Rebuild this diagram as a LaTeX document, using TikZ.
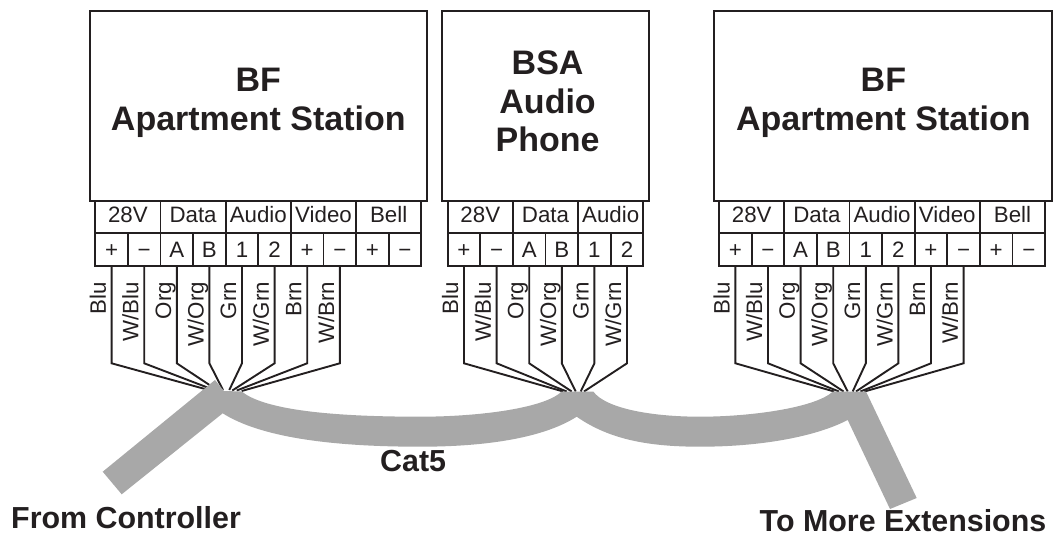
\documentclass[tikz,border=0pt]{standalone}
\usepackage{fontspec}
\setmainfont{Liberation Sans}
\definecolor{ink}{HTML}{231F20}
\definecolor{cable}{HTML}{A8A8A8}
\tikzset{
  stationbox/.style={draw=ink,line width=2.2pt,inner sep=0pt,minimum height=190pt},
  cellbase/.style={draw=ink,line width=1.9pt,inner sep=0pt,text=ink,font=\fontsize{22.3}{22}\selectfont},
  headcell/.style={cellbase,minimum width=65.2pt,minimum height=32.6pt,text height=15.75pt,text depth=4pt},
  termcell/.style={cellbase,minimum width=32.6pt,minimum height=32.6pt,text height=15.75pt,text depth=0pt},
  wire/.style={draw=ink,line width=1.9pt,line join=miter},
  wirelabel/.style={rotate=90,anchor=base east,inner sep=0pt,text=ink,font=\fontsize{22.3}{22}\selectfont},
  title/.style={anchor=base,inner sep=0pt,text=ink,font=\fontsize{34}{34}\selectfont\bfseries},
  note/.style={anchor=base west,inner sep=0pt,text=ink,font=\fontsize{30.4}{30}\selectfont\bfseries},
}
\begin{document}
\begin{tikzpicture}[x=1pt,y=-1pt]
\useasboundingbox (0,0) rectangle (1053,535);
% station boxes
\node[stationbox,minimum width=336.7pt] (boxA) at (258.35,105.7) {};
\node[stationbox,minimum width=207pt] (boxB) at (545.5,105.7) {};
\node[stationbox,minimum width=337.6pt] (boxC) at (882.8,105.7) {};
% titles
\node[title] (tA1) at (258.3,92) {BF};
\node[title] (tA2) at (258.3,130) {Apartment Station};
\node[title] (tB1) at (547.6,75) {BSA};
\node[title] (tB2) at (547.6,113.3) {Audio};
\node[title] (tB3) at (547.6,151.7) {Phone};
\node[title] (tC1) at (883.4,92) {BF};
\node[title] (tC2) at (883.4,130) {Apartment Station};
% header cells
\foreach \s/\xo in {A/95.3,C/719.1}{
  \foreach \n [count=\i from 0] in {28V,Data,Audio,Video,Bell}
    \node[headcell] (h\s\i) at ({\xo+32.6+65.2*\i},217) {\n};
  \foreach \n [count=\i from 0] in {+,−,A,B,1,2,+,−,+,−}
    \node[termcell] (c\s\i) at ({\xo+16.3+32.6*\i},249.6) {\n};
}
\foreach \n [count=\i from 0] in {28V,Data,Audio}
  \node[headcell] (hB\i) at ({447.7+32.6+65.2*\i},217) {\n};
\foreach \n [count=\i from 0] in {+,−,A,B,1,2}
  \node[termcell] (cB\i) at ({447.7+16.3+32.6*\i},249.6) {\n};
% fan-in level
\coordinate (bend) at (0,363.3);
\coordinate (labeltop) at (0,281.7);
% hub ends
\foreach \s/\i/\x/\y in {
  A/0/205/389,A/1/207.5/387.5,A/2/209.5/385,A/3/223/390,A/4/229.3/390,A/5/232.3/390.5,A/6/236.7/390.5,A/7/241.7/391,
  B/0/563.3/391.5,B/1/566.7/391.5,B/2/571.7/391.5,B/3/575.7/391.5,B/4/580.7/391.5,B/5/584/391.5,
  C/0/834.2/391.5,C/1/839/391.5,C/2/843.6/391.5,C/3/847.7/391.5,C/4/852.7/391.5,C/5/856/391.5,C/6/860.4/391.5,C/7/864.4/391.5}
  \coordinate (e\s\i) at (\x,\y);
% wires
\foreach \s/\i in {A/0,A/1,A/2,A/3,A/4,A/5,A/6,A/7,B/0,B/1,B/2,B/3,B/4,B/5,C/0,C/1,C/2,C/3,C/4,C/5,C/6,C/7}
  \draw[wire] (c\s\i.south) -- (c\s\i.south |- bend) -- (e\s\i);
% wire colours
\foreach \s/\i/\n in {A/0/Blu,A/1/W\slash Blu,A/2/Org,A/3/W\slash Org,A/4/Grn,A/5/W\slash Grn,A/6/Brn,A/7/W\slash Brn,
  B/0/Blu,B/1/W\slash Blu,B/2/Org,B/3/W\slash Org,B/4/Grn,B/5/W\slash Grn,
  C/0/Blu,C/1/W\slash Blu,C/2/Org,C/3/W\slash Org,C/4/Grn,C/5/W\slash Grn,C/6/Brn,C/7/W\slash Brn}
  \node[wirelabel] (l\s\i) at ([xshift=-5.8pt]c\s\i.south |- labeltop) {\n};
% cable
\fill[cable] (102.7,471.7) -- (215,380) -- (224,391) -- (241.7,391.5)
  .. controls (262,408) and (320,416.7) .. (420,416.7)
  .. controls (480,416.7) and (545,408) .. (561.7,391.5)
  -- (593.3,391.5)
  .. controls (605,408) and (650,416.7) .. (700,416.7)
  .. controls (750,416.7) and (815,408) .. (833,391.5)
  -- (866,391.5) -- (916.7,498) -- (890,509) -- (847.7,420)
  .. controls (815,437) and (760,446.7) .. (700,446.7)
  .. controls (650,446.7) and (610,440) .. (576.7,416.7)
  .. controls (545,437) and (490,446.7) .. (420,446.7)
  .. controls (330,446.7) and (260,437) .. (222.7,413.3)
  -- (121.7,494.3) -- cycle;
% notes
\node[note] (cat) at (380,471.7) {Cat5};
\node[note] (from) at (11,528.3) {From Controller};
\node[note] (to) at (759.5,531) {To More Extensions};
\end{tikzpicture}
\end{document}
